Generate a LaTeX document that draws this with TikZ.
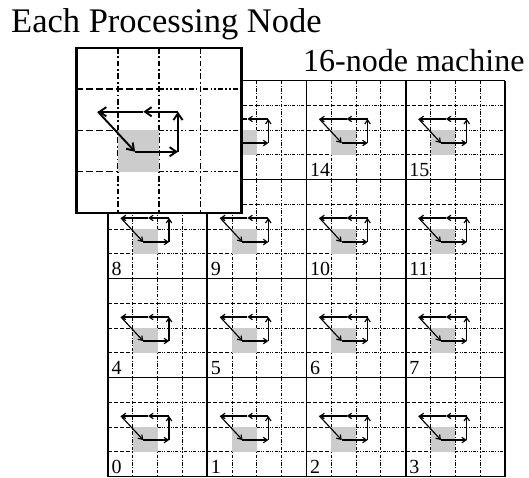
\documentclass[tikz,border=0pt]{standalone}
\usepackage{fontspec}
\setmainfont{Liberation Serif}
\usetikzlibrary{arrows.meta}
\definecolor{cellgray}{RGB}{204,204,204}

% \kk is the scale factor of the tile currently being drawn
\def\kk{1}
\tikzset{
  gridv/.style={line width=\kk*0.9pt, dash pattern=on \kk*3.5pt off \kk*1.6pt on \kk*1pt off \kk*1.6pt},
  griddash/.style={line width=\kk*0.9pt, dash pattern=on \kk*4pt off \kk*2pt},
  griddd/.style={line width=\kk*0.9pt, dash pattern=on \kk*3pt off \kk*1.3pt on \kk*1pt off \kk*1.3pt on \kk*1pt off \kk*1.3pt},
  route/.style={line width=\kk*1.15pt, -{Straight Barb[length=\kk*4pt,width=\kk*5.5pt]}},
  busy/.style={fill=cellgray},
  border/.style={line width=1.6pt},
  tilenum/.style={font=\fontsize{20}{20}\selectfont, anchor=base west, inner sep=0pt},
}

% one processing node: 4x4 cells, top-left at (#1,#2), cell size #3 (pt), factor #4
\newcommand\petile[4]{%
  \begin{scope}[shift={(#1,#2)}, x=#3pt, y=-#3pt]
    \pgfmathsetmacro\kk{#4}
    \foreach \i in {1,2,3}{
      \draw[gridv] (\i,0) -- (\i,4);
      \draw[griddash] (0,\i) -- (2,\i);
      \draw[griddd] (2,\i) -- (4,\i);
    }
    \fill[busy] (1,2) rectangle (2,3);
    \coordinate (pa) at (0.52,1.55);
    \coordinate (pb) at (1.42,2.52);
    \coordinate (pc) at (2.46,2.52);
    \coordinate (pd) at (2.46,1.55);
    \coordinate (pm) at (1.62,1.55);
    \draw[route] (pa) -- (pb);
    \draw[route] (pb) -- (pc);
    \draw[route] (pc) -- (pd);
    \draw[route] (pd) -- (pm);
    \draw[route] (pm) -- (pa);
  \end{scope}}

\begin{document}
\begin{tikzpicture}[x=1pt, y=-1pt]
  \useasboundingbox (0,0) rectangle (529,477);

  % the 16-node machine
  \foreach \r in {0,...,3}{
    \foreach \c in {0,...,3}{
      \pgfmathtruncatemacro\n{4*\r+\c}
      \pgfmathsetmacro\tx{108+99.25*\c}
      \pgfmathsetmacro\ty{80.5+99*(3-\r)}
      \petile{\tx}{\ty}{24.8125}{1}
      \node[tilenum] (lab\n) at (\tx+3.5,\ty+95.5) {\n};
    }
  }
  \foreach \i in {0,...,4}{
    \draw[border] (108+99.25*\i,80.5) -- (108+99.25*\i,476.5);
    \draw[border] (108,80.5+99*\i) -- (505,80.5+99*\i);
  }

  % enlarged view of one node
  \fill[white] (76.5,47.8) rectangle (241.5,212.8);
  \petile{76.5}{47.8}{41.25}{1.6625}
  \draw[line width=2.2pt] (76.5,47.8) rectangle (241.5,212.8);

  \node[font=\fontsize{34.5}{34.5}\selectfont, anchor=base west, inner sep=0pt] (title) at (11,32.3) {Each Processing Node};
  \node[font=\fontsize{32}{32}\selectfont, anchor=base west, inner sep=0pt] (machine) at (303,71.7) {16-node machine};
\end{tikzpicture}
\end{document}
